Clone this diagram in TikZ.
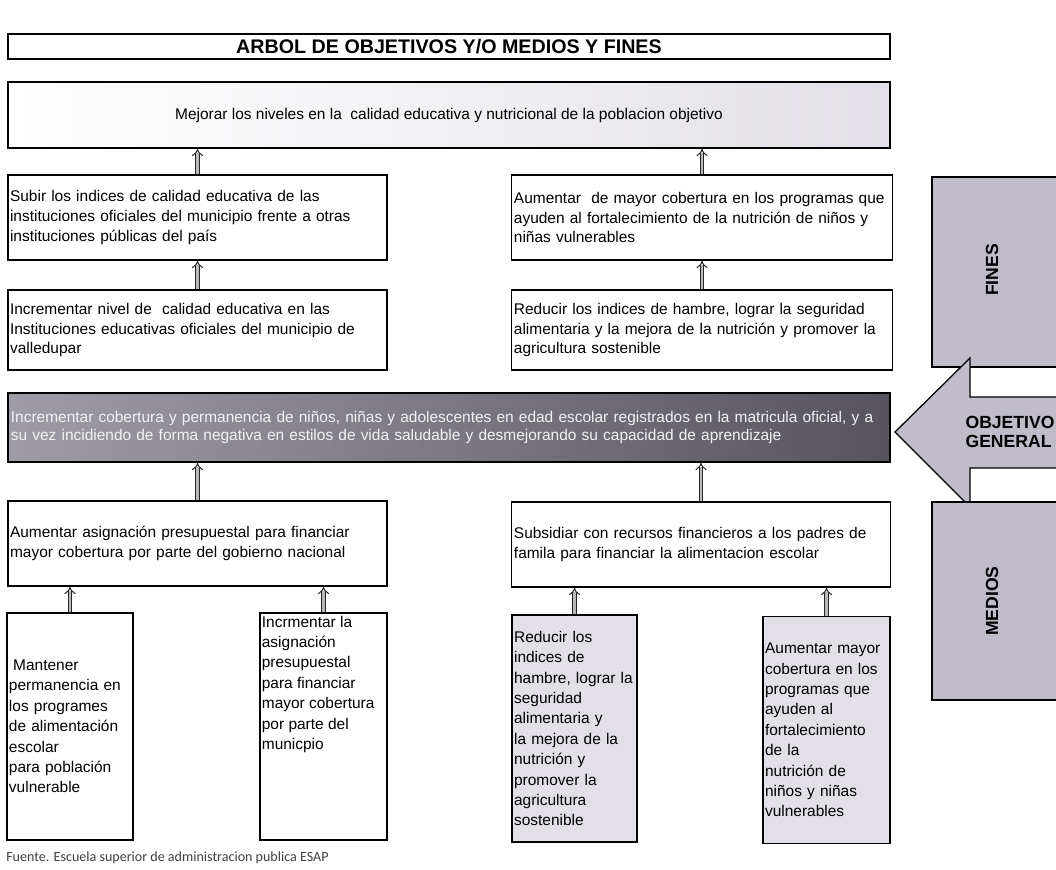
\documentclass[tikz,border=0pt]{standalone}
\usepackage{fontspec}
\setmainfont{Liberation Sans}
\newfontfamily\srcfont{Carlito}
\usetikzlibrary{arrows.meta}

\definecolor{panelgray}{RGB}{192,189,200}
\definecolor{lightgray}{RGB}{226,224,230}
\definecolor{banddark}{RGB}{88,84,94}
\definecolor{bandlight}{RGB}{160,156,166}

\tikzset{
    box/.style={draw=black, line width=0.9pt, rectangle, inner sep=1.5pt,
                align=left, font=\fontsize{11}{14}\selectfont},
    tallbox/.style={box, minimum height=5.675cm, minimum width=3.15cm,
                font=\fontsize{11}{14.5}\selectfont},
    up/.style={double=gray!55, double distance=2pt, line width=0.7pt,
               draw=black!85, -{Implies}},
    panel/.style={fill=panelgray, draw=black, line width=0.9pt},
    paneltext/.style={font=\fontsize{12.5}{13}\selectfont\bfseries}
}

\begin{document}
\begin{tikzpicture}[x=0.025cm, y=-0.025cm]
    \useasboundingbox (0,0) rectangle (1056,869);

    % titulo y fin ultimo
    \node[box, minimum width=22.05cm, minimum height=0.625cm, align=center,
          font=\fontsize{14}{16}\selectfont\bfseries] (title) at (449,46.5)
          {ARBOL DE OBJETIVOS Y/O MEDIOS Y FINES};
    \node[box, minimum width=22.05cm, minimum height=1.65cm, align=center,
          left color=white, right color=lightgray,
          font=\fontsize{11}{13}\selectfont] (fin) at (449,115)
          {Mejorar los niveles en la \ calidad educativa y nutricional de la poblacion objetivo};

    % fines
    \node[box, minimum width=9.475cm, minimum height=2.125cm, text width=9.37cm] (fa1) at (197.5,217.5)
          {Subir los indices de calidad educativa de las\\
           instituciones oficiales del municipio frente a otras\\
           instituciones públicas del país};
    \node[box, minimum width=9.5cm, minimum height=2.125cm, text width=9.4cm] (fb1) at (702,217.5)
          {Aumentar \ de mayor cobertura en los programas que\\
           ayuden al fortalecimiento de la nutrición de niños y\\
           niñas vulnerables};
    \node[box, minimum width=9.475cm, minimum height=2cm, text width=9.37cm] (fa2) at (197.5,330)
          {Incrementar nivel de \ calidad educativa en las\\
           Instituciones educativas oficiales del municipio de\\
           valledupar};
    \node[box, minimum width=9.5cm, minimum height=2cm, text width=9.4cm] (fb2) at (702,330)
          {Reducir los indices de hambre, lograr la seguridad\\
           alimentaria y la mejora de la nutrición y promover la\\
           agricultura sostenible};

    % objetivo general
    \node[box, minimum width=22.05cm, minimum height=1.725cm, text width=21.9cm,
          left color=bandlight, right color=banddark, text=gray!10,
          font=\fontsize{11}{13}\selectfont] (obj) at (449,427.5)
          {Incrementar cobertura y permanencia de niños, niñas y adolescentes en edad escolar registrados en la matricula oficial, y a\\
           su vez incidiendo de forma negativa en estilos de vida saludable y desmejorando su capacidad de aprendizaje};

    % medios
    \node[box, minimum width=9.475cm, minimum height=2.125cm, text width=9.37cm] (ma) at (197.5,543.5)
          {Aumentar asignación presupuestal para financiar\\
           mayor cobertura por parte del gobierno nacional};
    \node[box, minimum width=9.45cm, minimum height=2.125cm, text width=9.35cm] (mb) at (701,544.5)
          {Subsidiar con recursos financieros a los padres de\\
           famila para financiar la alimentacion escolar};

    \node[tallbox, text width=3.05cm] (m1) at (70,726.5)
          {\hspace{3pt}Mantener\\ permanencia en\\ los programes\\ de alimentación\\
           escolar\\ para población\\ vulnerable};
    \node[tallbox, minimum width=3.175cm, inner sep=0pt] (m2) at (323.5,726.5)
          {\parbox[c][5.6cm][t]{3.08cm}{\vspace{1pt}Incrmentar la\\ asignación\\ presupuestal\\
           para financiar\\ mayor cobertura\\ por parte del\\ municpio}};
    \node[tallbox, minimum width=3.125cm, text width=3.02cm, fill=lightgray] (m3) at (574.5,728.5)
          {Reducir los\\ indices de\\ hambre, lograr la\\ seguridad\\ alimentaria y\\
           la mejora de la\\ nutrición y\\ promover la\\ agricultura\\ sostenible};
    \node[tallbox, minimum width=3.175cm, text width=3.07cm, fill=lightgray] (m4) at (826.5,730)
          {Aumentar mayor\\ cobertura en los\\ programas que\\ ayuden al\\ fortalecimiento\\
           de la\\ nutrición de\\ niños y niñas\\ vulnerables};

    % flechas
    \draw[up] (fa1.north) -- (fa1.north |- fin.south);
    \draw[up] (fb1.north) -- (fb1.north |- fin.south);
    \draw[up] (fa2.north) -- (fa1.south);
    \draw[up] (fb2.north) -- (fb1.south);
    \draw[up] (ma.north) -- (ma.north |- obj.south);
    \draw[up] (mb.north) -- (mb.north |- obj.south);
    \draw[up] (m1.north) -- (m1.north |- ma.south);
    \draw[up] (m2.north) -- (m2.north |- ma.south);
    \draw[up] (m3.north) -- (m3.north |- mb.south);
    \draw[up] (m4.north) -- (m4.north |- mb.south);

    % paneles de la derecha
    \path[panel] (1062,177) -- (932,177) -- (932,367) -- (1062,367);
    \node[paneltext, rotate=90] (fines) at (992,270) {FINES};
    \path[panel] (1062,397) -- (970,397) -- (970,358) -- (895,432)
                 -- (970,507) -- (970,468) -- (1062,468);
    \node[paneltext, align=left] (objgen) at (1010,432) {OBJETIVO\\GENERAL};
    \path[panel] (1062,502) -- (932,502) -- (932,700) -- (1062,700);
    \node[paneltext, rotate=90] (medios) at (992,601) {MEDIOS};

    \node[anchor=west, font=\srcfont\fontsize{10}{11}\selectfont, text=black!75, inner sep=0pt]
          (fuente) at (6,858) {Fuente. Escuela superior de administracion publica ESAP};
\end{tikzpicture}
\end{document}
